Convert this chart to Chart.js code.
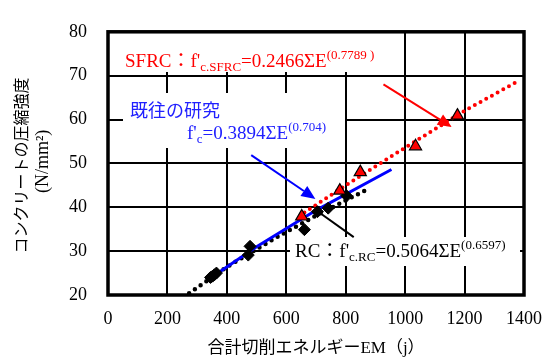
<!DOCTYPE html>
<html>
<head>
<meta charset="utf-8">
<script src="https://cdn.jsdelivr.net/npm/chart.js@4.4.0/dist/chart.umd.min.js"></script>
<style>
    html, body { margin: 0; padding: 0; background: #fff; }
    #wrap { width: 555px; height: 360px; }
</style>
</head>
<body>
<div id="wrap"><canvas id="chart"></canvas></div>
<script>
// measured points (RC = diamonds, SFRC = triangles)
const rcEnergy = [345, 352, 358, 365, 472, 478, 661, 705, 741, 803];
const rcStrength = [24.0, 24.3, 24.6, 25.0, 29.1, 31.1, 34.9, 39.0, 39.8, 42.6];
const sfrcEnergy = [652, 780, 849, 1035, 1176];
const sfrcStrength = [37.9, 43.8, 48.0, 53.9, 60.9];

// regression curves
const rcFitEnergy = [273, 400, 561, 700, 882];
const rcFitStrength = [20.4, 26.4, 32.9, 38.1, 44.4];
const pastFitEnergy = [339, 500, 700, 954];
const pastFitStrength = [23.6, 31.0, 39.3, 48.6];
const sfrcFitEnergy = [661, 800, 1000, 1200, 1376];
const sfrcFitStrength = [38.8, 45.0, 53.6, 62.0, 68.6];

const xTitle = "合計切削エネルギーEM（j）";
const yTitle = ["コンクリートの圧縮強度", "(N/mm²)"];

const FONT = "'Liberation Serif', 'Times New Roman', 'Noto Sans CJK JP', serif";

function toPoints(xs, ys) {
    return xs.map((x, i) => ({ x: x, y: ys[i] }));
}

function drawRuns(ctx, x, y, runs, color) {
    ctx.fillStyle = color;
    ctx.textAlign = "left";
    ctx.textBaseline = "alphabetic";
    runs.forEach(([text, size, dy]) => {
        ctx.font = size + "px " + FONT;
        ctx.fillText(text, x, y + dy);
        x += ctx.measureText(text).width;
    });
}

function drawArrow(ctx, x1, y1, x2, y2, color, head) {
    const ang = Math.atan2(y2 - y1, x2 - x1);
    const hl = 14, hw = 6;
    const bx = x2 - hl * Math.cos(ang);
    const by = y2 - hl * Math.sin(ang);
    ctx.strokeStyle = color;
    ctx.fillStyle = color;
    ctx.lineWidth = 2;
    ctx.beginPath();
    ctx.moveTo(x1, y1);
    ctx.lineTo(head ? bx : x2, head ? by : y2);
    ctx.stroke();
    if (head) {
        ctx.beginPath();
        ctx.moveTo(x2, y2);
        ctx.lineTo(bx + hw * Math.sin(ang), by - hw * Math.cos(ang));
        ctx.lineTo(bx - hw * Math.sin(ang), by + hw * Math.cos(ang));
        ctx.closePath();
        ctx.fill();
    }
}

const annotations = {
    id: "annotations",
    beforeDatasetsDraw(chart) {
        const { ctx, chartArea: a } = chart;
        ctx.save();
        // white boxes behind the equation labels
        ctx.fillStyle = "#fff";
        ctx.fillRect(123, 28, 265, 44);
        ctx.fillRect(123, 93, 222, 55);
        ctx.fillRect(290, 237, 230, 29);

        // frame
        ctx.strokeStyle = "#000";
        ctx.lineWidth = 3.5;
        ctx.strokeRect(a.left, a.top, a.right - a.left, a.bottom - a.top);

        drawRuns(ctx, 125, 67, [
            ["SFRC：f'", 19, 0], ["c.SFRC", 13, 4], ["=0.2466ΣE", 19, 0], ["(0.7789 )", 13, -8]
        ], "#ff0000");
        ctx.font = "18px 'Noto Sans CJK JP', sans-serif";
        ctx.fillStyle = "#2020ff";
        ctx.fillText("既往の研究", 130, 117);
        drawRuns(ctx, 187, 139, [
            ["f'", 19, 0], ["c", 13, 4], ["=0.3894ΣE", 19, 0], ["(0.704)", 13, -8]
        ], "#2020ff");
        drawRuns(ctx, 295, 257, [
            ["RC：f'", 19, 0], ["c.RC", 13, 4], ["=0.5064ΣE", 19, 0], ["(0.6597)", 13, -8]
        ], "#000");
        ctx.restore();
    },
    afterDatasetsDraw(chart) {
        const { ctx, scales: { x, y } } = chart;
        const px = (v) => x.getPixelForValue(v);
        const py = (v) => y.getPixelForValue(v);
        ctx.save();
        drawArrow(ctx, px(927), py(68.0), px(1157), py(58.3), "#ff0000", true);
        drawArrow(ctx, px(482), py(51.9), px(698), py(41.9), "#0000ff", true);
        drawArrow(ctx, px(705), py(39.1), px(827), py(33.2), "#000", false);
        ctx.restore();
    },
    afterDraw(chart) {
        const { ctx, chartArea: a } = chart;
        const midY = (a.top + a.bottom) / 2;
        ctx.save();
        ctx.fillStyle = "#000";
        ctx.textAlign = "center";
        ctx.textBaseline = "middle";
        ctx.font = "17px " + FONT;
        ctx.fillText(xTitle, (a.left + a.right) / 2, 349);

        ctx.translate(23, midY + 2);
        ctx.rotate(-Math.PI / 2);
        ctx.font = "16px " + FONT;
        ctx.fillText(yTitle[0], 0, 0);
        ctx.font = "18px " + FONT;
        ctx.fillText(yTitle[1], 4, 20);
        ctx.restore();
    }
};

new Chart(document.getElementById("chart"), {
    type: "scatter",
    plugins: [annotations],
    data: {
        datasets: [
            {
                label: "RC fit",
                data: toPoints(rcFitEnergy, rcFitStrength),
                showLine: true,
                borderColor: "#000",
                borderWidth: 4.5,
                borderDash: [0, 7],
                borderCapStyle: "round",
                pointRadius: 0,
                order: 5
            },
            {
                label: "Past study",
                data: toPoints(pastFitEnergy, pastFitStrength),
                showLine: true,
                borderColor: "#0000ff",
                borderWidth: 3,
                pointRadius: 0,
                order: 4
            },
            {
                label: "SFRC fit",
                data: toPoints(sfrcFitEnergy, sfrcFitStrength),
                showLine: true,
                borderColor: "#ff0000",
                borderWidth: 4,
                borderDash: [0, 6.5],
                borderCapStyle: "round",
                pointRadius: 0,
                order: 3
            },
            {
                label: "RC",
                data: toPoints(rcEnergy, rcStrength),
                pointStyle: "rectRot",
                pointRadius: 6,
                backgroundColor: "#000",
                borderColor: "#000",
                borderWidth: 1,
                order: 2
            },
            {
                label: "SFRC",
                data: toPoints(sfrcEnergy, sfrcStrength),
                pointStyle: "triangle",
                pointRadius: 7,
                backgroundColor: "#ff0000",
                borderColor: "#000",
                borderWidth: 1.2,
                order: 1
            }
        ]
    },
    options: {
        responsive: true,
        maintainAspectRatio: false,
        animation: false,
        events: [],
        layout: { padding: { top: 16, right: 26, left: 0, bottom: 0 } },
        plugins: {
            legend: { display: false },
            tooltip: { enabled: false }
        },
        scales: {
            x: {
                type: "linear",
                min: 0,
                max: 1400,
                afterFit: (scale) => { scale.height = 65; },
                ticks: {
                    stepSize: 200,
                    padding: 13,
                    color: "#000",
                    font: { family: FONT, size: 18 },
                    callback: (value) => String(value)
                },
                grid: { color: "#000", lineWidth: 2, drawTicks: false },
                border: { display: false }
            },
            y: {
                type: "linear",
                min: 20,
                max: 80,
                afterFit: (scale) => { scale.width = 108; },
                ticks: {
                    stepSize: 10,
                    padding: 21,
                    color: "#000",
                    font: { family: FONT, size: 18 },
                    callback: (value) => String(value)
                },
                grid: { color: "#000", lineWidth: 2, drawTicks: false },
                border: { display: false }
            }
        }
    }
});
</script>
</body>
</html>
